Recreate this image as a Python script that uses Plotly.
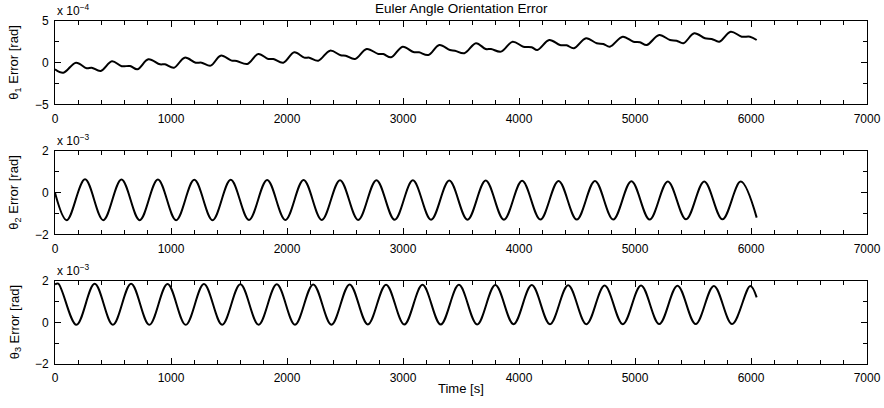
import plotly.graph_objects as go

# ---------------- data ----------------
# theta_1 error, displayed in units of 1e-4 rad
t1 = [0, 72, 181, 273, 316, 394, 491, 575, 647, 710, 805, 905, 948, 1026, 1118,
      1213, 1264, 1342, 1428, 1523, 1566, 1658, 1753, 1839, 1882, 1968, 2063,
      2149, 2192, 2270, 2371, 2463, 2506, 2586, 2687, 2787, 2830, 2897, 2997,
      3089, 3138, 3218, 3313, 3405, 3448, 3529, 3629, 3713, 3759, 3845, 3945,
      4037, 4109, 4158, 4261, 4353, 4411, 4474, 4578, 4670, 4727, 4784, 4894,
      4986, 5043, 5101, 5209, 5302, 5359, 5417, 5511, 5603, 5661, 5727, 5825,
      5920, 5991, 6049]
theta1_e4 = [-0.8, -1.2, 0.0, -0.67, -0.6, -1.0, 0.17, -0.43, -0.4, -0.8, 0.4, -0.2,
             -0.2, -0.6, 0.6, 0.0, 0.0, -0.36, 0.84, 0.24, 0.2, -0.16, 1.04, 0.44,
             0.44, 0.0, 1.25, 0.6, 0.6, 0.24, 1.44, 0.89, 0.84, 0.44, 1.64, 1.04,
             1.04, 0.64, 1.92, 1.28, 1.24, 0.92, 2.12, 1.52, 1.44, 1.13, 2.33, 1.64,
             1.64, 1.32, 2.52, 1.92, 1.85, 1.52, 2.72, 2.12, 2.08, 1.73, 2.93, 2.33,
             2.24, 1.92, 3.12, 2.52, 2.45, 2.12, 3.32, 2.72, 2.64, 2.33, 3.53, 2.93,
             2.85, 2.52, 3.72, 3.12, 3.12, 2.72]

# theta_2 error, displayed in units of 1e-3 rad
t2 = [0, 102, 259, 416, 573, 730, 887, 1044, 1201, 1358, 1515, 1672, 1829, 1986,
      2143, 2300, 2457, 2614, 2771, 2928, 3085, 3242, 3399, 3556, 3713, 3870,
      4027, 4184, 4341, 4498, 4655, 4812, 4969, 5126, 5283, 5440, 5597, 5754,
      5911, 6049]
theta2_e3 = [0.0, -1.32, 0.64, -1.32, 0.63, -1.32, 0.63, -1.32, 0.62, -1.32, 0.62,
             -1.31, 0.61, -1.31, 0.61, -1.31, 0.60, -1.31, 0.60, -1.30, 0.59, -1.30,
             0.58, -1.30, 0.58, -1.30, 0.57, -1.29, 0.56, -1.29, 0.56, -1.29, 0.55,
             -1.29, 0.54, -1.28, 0.54, -1.28, 0.53, -1.20]

# theta_3 error, displayed in units of 1e-3 rad
t3 = [0, 28, 185, 342, 499, 656, 813, 970, 1127, 1284, 1441, 1598, 1755, 1912,
      2069, 2226, 2383, 2540, 2697, 2854, 3011, 3168, 3325, 3482, 3639, 3796,
      3953, 4110, 4267, 4424, 4581, 4738, 4895, 5052, 5209, 5366, 5523, 5680,
      5837, 5994, 6049]
theta3_e3 = [1.82, 1.86, -0.12, 1.85, -0.12, 1.85, -0.12, 1.84, -0.12, 1.84, -0.11,
             1.83, -0.11, 1.83, -0.11, 1.82, -0.11, 1.82, -0.10, 1.81, -0.10, 1.80,
             -0.10, 1.80, -0.10, 1.79, -0.09, 1.79, -0.09, 1.78, -0.09, 1.77, -0.09,
             1.77, -0.08, 1.76, -0.08, 1.75, -0.08, 1.75, 1.20]

x_ticks = [0, 1000, 2000, 3000, 4000, 5000, 6000, 7000]
y1_ticks = [-5, 0, 5]
y1_minor = [-2.5, 2.5]
y23_ticks = [-2, 0, 2]
y23_minor = [-1, 1]

title_text = "Euler Angle Orientation Error"
xlabel = "Time [s]"
ylabels = ["θ<sub>1</sub> Error [rad]", "θ<sub>2</sub> Error [rad]", "θ<sub>3</sub> Error [rad]"]
exponents = ["x 10<sup>−4</sup>", "x 10<sup>−3</sup>", "x 10<sup>−3</sup>"]

# ---------------- figure ----------------
FONT = "Liberation Sans, Arial, Helvetica, sans-serif"
W, H = 884, 408
ML, MR, MT, MB = 55, 17, 21, 44
ph = H - MT - MB


def frac(py):               # pixel y -> paper fraction
    return (H - MB - py) / ph


def px_x(px):               # pixel x -> paper fraction
    return (px - ML) / (W - ML - MR)


# pixel boxes (top, bottom) of the three axes
boxes = [(21, 104.3), (151, 234.3), (280.7, 364)]
domains = [[frac(b), frac(t)] for t, b in boxes]

fig = go.Figure()
series = [(t1, theta1_e4), (t2, theta2_e3), (t3, theta3_e3)]
for i, (tx, ty) in enumerate(series):
    sfx = "" if i == 0 else str(i + 1)
    fig.add_trace(go.Scatter(
        x=tx, y=ty, mode="lines",
        line=dict(color="black", width=2, shape="spline", smoothing=1.0),
        xaxis="x" + sfx, yaxis="y" + sfx, showlegend=False, hoverinfo="skip"))

layout = dict(
    width=W, height=H, autosize=False,
    margin=dict(l=ML, r=MR, t=MT, b=MB, pad=0, autoexpand=False),
    paper_bgcolor="white", plot_bgcolor="white",
    font=dict(family=FONT, size=12, color="black"),
    showlegend=False,
)

for i in range(3):
    sfx = "" if i == 0 else str(i + 1)
    layout["xaxis" + sfx] = dict(
        domain=[0, 1], range=[0, 7000], anchor="y" + sfx, automargin=False,
        tickvals=x_ticks, ticktext=[str(v) for v in x_ticks],
        ticks="inside", ticklen=6, tickwidth=1, tickcolor="black",
        minor=dict(dtick=200, tick0=0, ticks="inside", ticklen=4, tickwidth=1,
                   tickcolor="black", showgrid=False),
        showline=True, linecolor="black", linewidth=1, mirror="ticks",
        showgrid=False, zeroline=False, ticklabelstandoff=3,
        tickfont=dict(family=FONT, size=12, color="black"),
    )
    yt = y1_ticks if i == 0 else y23_ticks
    ym = y1_minor if i == 0 else y23_minor
    layout["yaxis" + sfx] = dict(
        domain=domains[i], range=[yt[0], yt[-1]], anchor="x" + sfx, automargin=False,
        tickvals=yt, ticktext=[str(v).replace("-", "−") for v in yt],
        ticks="inside", ticklen=6, tickwidth=1, tickcolor="black",
        minor=dict(tickvals=ym, ticks="inside", ticklen=4, tickwidth=1,
                   tickcolor="black", showgrid=False),
        showline=True, linecolor="black", linewidth=1, mirror="ticks",
        showgrid=False, zeroline=False, ticklabelstandoff=3,
        tickfont=dict(family=FONT, size=12, color="black"),
    )

fig.update_layout(**layout)

LABEL_SIZE = 13.5
annotations = [
    dict(text=title_text, x=px_x(461), y=frac(8), xref="paper", yref="paper",
         showarrow=False, xanchor="center", yanchor="middle",
         font=dict(family=FONT, size=LABEL_SIZE, color="black")),
    dict(text=xlabel, x=px_x(461), y=frac(388), xref="paper", yref="paper",
         showarrow=False, xanchor="center", yanchor="middle",
         font=dict(family=FONT, size=13, color="black")),
]
for i, (top, bot) in enumerate(boxes):
    annotations.append(dict(
        text=ylabels[i], x=px_x(15), y=frac((top + bot) / 2), xref="paper", yref="paper",
        showarrow=False, xanchor="center", yanchor="middle", textangle=-90,
        font=dict(family=FONT, size=13, color="black")))
    annotations.append(dict(
        text=exponents[i], x=px_x(55), y=frac(top - 1), xref="paper", yref="paper",
        showarrow=False, xanchor="left", yanchor="bottom",
        font=dict(family=FONT, size=12, color="black")))
fig.update_layout(annotations=annotations)

# remove the page's default body margin so the figure fills the window exactly
fig.write_html("out.html",
               config={"displayModeBar": False, "staticPlot": True},
               post_script="document.body.style.margin='0px';document.body.style.padding='0px';")
